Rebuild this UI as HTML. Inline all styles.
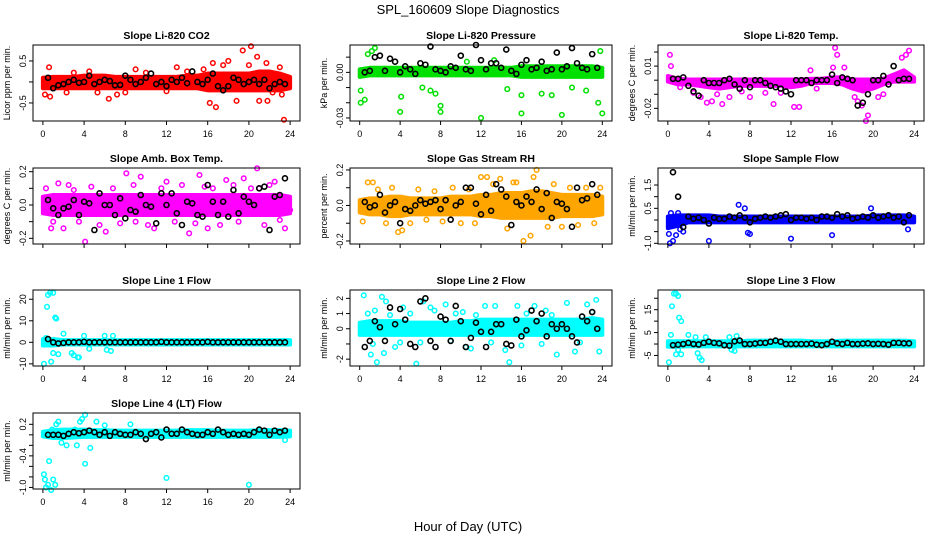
<!DOCTYPE html>
<html><head><meta charset="utf-8"><style>
body{margin:0;background:#fff;}
svg text{font-family:"Liberation Sans",sans-serif;}
</style></head><body>
<svg id="c" width="936" height="540" xmlns="http://www.w3.org/2000/svg">
<text x="468" y="14" text-anchor="middle" font-size="13">SPL_160609  Slope Diagnostics</text>
<text x="468" y="531" text-anchor="middle" font-size="13">Hour of Day (UTC)</text>
</svg>
<script>
const xTicks=[0,4,8,12,16,20,24];
const blackStart=0.5, blackStep=0.5;
// Panel 1 CO2
const co2BandLo=[-0.15,-0.15,-0.15,-0.15,-0.15,-0.15,-0.15,-0.15,-0.15,-0.15,-0.15,-0.15,-0.15,-0.15,-0.15,-0.15,-0.2,-0.2,-0.2,-0.2,-0.2,-0.2,-0.2,-0.2,-0.15];
const co2BandHi=[0.1,0.12,0.12,0.12,0.15,0.15,0.15,0.12,0.12,0.12,0.12,0.12,0.12,0.12,0.15,0.15,0.2,0.2,0.2,0.2,0.2,0.25,0.25,0.2,0.12];
const co2OutX=[0.6,0.2,0.7,2.3,5.3,6.4,7.2,9,13,16.2,16.8,16.5,18,18.8,19.4,20.2,20.8,21.7,21,21.8,23,23.4,22.3,15.6,17.5,20,23.2,3,4.5,8,10,12,14];
const co2OutY=[0.35,-0.3,-0.35,-0.25,-0.25,-0.4,-0.3,0.3,0.35,-0.5,-0.6,0.45,0.5,-0.45,0.75,0.85,0.6,0.45,-0.45,-0.45,0.35,-0.9,-0.25,0.3,0.4,0.4,-0.3,0.22,0.25,-0.25,0.22,-0.22,0.25];
const co2Black=[0.1,-0.15,-0.08,-0.05,0.0,0.05,-0.02,0.0,0.15,-0.05,0.0,0.05,0.02,-0.08,-0.07,0.15,0.05,-0.05,0.0,0.1,0.2,-0.05,0.0,-0.1,0.05,0.0,0.1,-0.03,0.25,0.0,-0.05,0.05,0.2,-0.1,-0.2,-0.1,0.1,0.05,-0.05,0.0,0.05,-0.05,0.05,-0.15,-0.05,0.0,-0.05];
// Panel 2 Pressure
const prBandLo=[-0.003,-0.002,-0.002,-0.002,-0.002,-0.002,-0.002,-0.002,-0.002,-0.002,-0.002,-0.002,-0.002,-0.002,-0.002,-0.002,-0.003,-0.003,-0.003,-0.003,-0.003,-0.003,-0.003,-0.003,-0.003];
const prBandHi=[0.002,0.003,0.003,0.003,0.003,0.003,0.003,0.003,0.003,0.003,0.003,0.003,0.003,0.003,0.003,0.003,0.004,0.004,0.004,0.004,0.004,0.004,0.004,0.004,0.003];
const prOutX=[0.1,0.1,0.5,0.8,1.2,1.5,4.1,4,8,8,6.2,7,12,16,20,24,23.6,16,19,13.3,10.6,7.5,21,23.8,22.4,18,14.6];
const prOutY=[-0.012,-0.02,-0.018,0.012,0.014,0.016,-0.016,-0.026,-0.026,-0.022,-0.01,-0.012,-0.03,-0.027,-0.028,-0.027,-0.02,-0.015,-0.015,0.008,0.007,-0.014,-0.01,0.014,-0.012,-0.014,-0.011];
const prBlack=[0.0,0.001,0.010,0.011,0.001,0.009,0.007,0.0,0.004,0.002,-0.001,0.006,0.005,0.017,0.002,0.001,0.0,0.004,0.003,0.011,0.002,0.001,0.018,0.008,0.002,0.006,0.006,0.003,0.015,0.001,-0.001,0.005,0.008,0.002,0.003,0.007,0.001,0.002,0.013,0.002,0.004,0.016,0.006,0.003,0.002,0.012,0.003];
// Panel 3 Temp
const tpBandLo=[-0.001,-0.003,-0.003,-0.004,-0.005,-0.006,-0.005,-0.004,-0.004,-0.004,-0.004,-0.004,-0.005,-0.004,-0.002,-0.002,-0.002,-0.003,-0.006,-0.008,-0.006,-0.003,-0.001,-0.001,-0.001];
const tpBandHi=[0.003,0.001,0.0005,0.0005,0.0005,0.0005,0.0005,0.0005,0.0005,0.0005,0.0005,0.0005,0.0005,0.0005,0.001,0.001,0.002,0.002,0.0005,0.0005,0.0005,0.001,0.004,0.007,0.002];
const tpOutX=[0.2,0.3,3.8,5.3,4.3,12.3,12.8,10.3,16.3,16.5,16.1,18.2,18.9,19.3,19.5,23.5,22.8,23.2,17.2,13.9,6.0,8.0,2.5,3.2,4.8,9.5,11,14.5,18.5,20.5,21,1.2,7.2];
const tpOutY=[0.018,0.01,-0.016,-0.017,-0.015,-0.019,-0.019,-0.017,0.023,0.018,0.009,-0.012,-0.018,-0.029,-0.025,0.021,0.016,0.018,0.009,0.007,-0.012,-0.012,-0.009,-0.012,-0.01,-0.009,-0.009,-0.006,-0.015,-0.012,-0.01,-0.005,-0.008];
const tpBlack=[0.001,0.001,0.002,-0.004,-0.008,-0.011,0.0,-0.002,-0.002,-0.002,0.0,0.001,-0.003,-0.006,0.0,-0.005,0.0,0.0,-0.002,-0.004,-0.005,-0.006,-0.008,-0.01,0.0,0.0,0.0,-0.002,0.0,0.0,0.0,0.004,-0.002,0.002,0.001,0.0,-0.018,-0.016,-0.01,0.0,0.0,0.003,-0.003,0.01,0.0,0.001,0.001];
// Panel 4 Amb box
const abBandLo=[-0.05,-0.06,-0.06,-0.06,-0.06,-0.06,-0.06,-0.06,-0.06,-0.06,-0.06,-0.06,-0.06,-0.06,-0.06,-0.06,-0.06,-0.06,-0.06,-0.06,-0.06,-0.06,-0.06,-0.06,-0.05];
const abBandHi=[0.05,0.06,0.06,0.06,0.06,0.06,0.06,0.06,0.06,0.06,0.06,0.06,0.06,0.06,0.06,0.06,0.06,0.06,0.06,0.06,0.06,0.06,0.06,0.06,0.05];
const abOutX=[4.1,6.1,8.1,9.5,14.2,15.2,20.8,19.5,17.8,1.5,2.0,12.0,22.5,23.5,0.8,10.8,16.0,0.3,1.0,2.5,3.5,4.7,5.5,6.8,7.5,8.8,10.2,11.5,12.8,13.5,14.8,16.5,17.2,18.5,19.0,20.2,21.5,22.0,23.0,24.0,3.0,9.0,15.7,21.0];
const abOutY=[-0.22,-0.16,0.19,0.17,-0.17,0.18,0.22,0.16,0.15,0.13,-0.14,0.14,0.14,-0.14,-0.14,-0.14,-0.14,0.1,-0.1,0.12,-0.1,0.11,-0.12,0.1,-0.11,0.12,-0.12,0.1,-0.1,0.12,-0.11,0.1,-0.12,0.12,-0.1,0.1,-0.12,0.12,-0.09,-0.03,0.09,-0.1,0.11,0.1];
const abBlack=[0.03,-0.02,-0.06,-0.02,-0.01,0.03,-0.06,0.02,0.01,-0.15,0.07,0.0,0.0,-0.06,0.04,-0.08,-0.03,-0.04,0.06,0.0,-0.01,-0.11,0.07,0.0,0.07,-0.05,-0.12,0.02,0.01,-0.06,-0.07,0.12,0.02,-0.06,0.02,-0.07,0.09,-0.05,0.05,0.02,0.0,0.1,0.11,-0.15,0.05,0.06,0.16];
// Panel 5 RH
const rhBandLo=[-0.04,-0.05,-0.05,-0.06,-0.06,-0.05,-0.05,-0.05,-0.05,-0.05,-0.05,-0.05,-0.06,-0.06,-0.07,-0.07,-0.07,-0.07,-0.07,-0.07,-0.06,-0.06,-0.06,-0.06,-0.05];
const rhBandHi=[0.03,0.04,0.04,0.05,0.05,0.04,0.04,0.04,0.04,0.05,0.05,0.05,0.06,0.06,0.07,0.07,0.07,0.08,0.08,0.07,0.06,0.06,0.06,0.06,0.05];
const rhOutX=[0.8,1.3,4.2,3.8,12.0,12.6,13.9,15.5,16.2,17.5,17.2,18.6,16.9,0.3,1.8,2.6,3.2,5.0,5.8,6.6,7.4,8.2,9.2,10,10.8,11.4,13.2,14.6,15.2,19.2,20.0,20.8,21.6,22.4,23.2,23.8];
const rhOutY=[0.13,0.13,-0.14,-0.15,0.16,0.16,0.15,0.13,-0.2,0.2,0.16,-0.12,-0.17,-0.09,0.09,-0.1,0.1,-0.1,0.09,-0.08,0.08,-0.09,0.1,-0.1,0.09,-0.1,0.12,-0.13,0.13,0.12,-0.12,0.1,-0.11,0.1,-0.1,0.1];
const rhBlack=[0.02,-0.01,0.0,0.06,-0.04,0.0,0.02,-0.1,-0.02,-0.03,0.0,0.03,0.01,0.02,0.03,-0.02,0.03,-0.08,0.0,0.02,0.1,0.1,0.01,-0.05,0.06,-0.03,0.12,0.09,0.05,-0.11,0.02,0.0,0.05,0.02,0.09,-0.02,0.07,-0.07,0.02,0.01,-0.02,-0.12,0.1,0.03,0.04,0.12,0.06];
// Panel 6 Sample flow
const sfBandLo=[-0.35,-0.25,-0.1,-0.1,-0.1,-0.1,-0.1,-0.1,-0.1,-0.1,-0.1,-0.1,-0.1,-0.1,-0.1,-0.1,-0.1,-0.1,-0.1,-0.1,-0.1,-0.1,-0.1,-0.1,-0.1];
const sfBandHi=[0.15,0.2,0.2,0.2,0.2,0.15,0.15,0.15,0.15,0.15,0.15,0.15,0.15,0.15,0.15,0.15,0.15,0.15,0.15,0.15,0.2,0.2,0.2,0.2,0.15];
const sfOutX=[0.1,0.2,0.5,0.8,1.2,1.5,4,6.9,7.5,7.8,8,12,16,19.8,23.4,0.3,1.0];
const sfOutY=[-0.6,-1.0,-0.9,-0.65,-0.4,-0.5,-0.9,0.65,0.5,-0.55,-0.6,-0.8,-0.65,0.5,-0.4,0.3,0.3];
const sfBlack=[2.05,1.0,-0.3,0.15,0.05,0.1,0.0,-0.15,0.1,0.05,0.05,0.15,0.1,0.2,0.1,-0.1,0.05,0.1,0.15,0.1,0.15,0.2,0.25,0.0,0.1,0.1,0.05,0.1,0.0,0.15,0.15,0.1,0.25,0.15,0.2,0.05,0.1,0.15,0.1,0.2,0.1,0.15,0.2,0.1,0.15,-0.1,0.2];
// Panel 7 Line 1
const l1BandLo=[-1.5,-1.5,-1,-1,-1,-1,-1,-1,-1,-1,-1,-1,-1,-1,-1,-1,-1,-1,-1,-1,-1,-1,-1,-1,-1];
const l1BandHi=[1.5,1.5,1,1,1,1,1,1,1,1,1,1,1,1,1,1,1,1,1,1,1,1,1,1,1];
const l1OutX=[0.1,0.3,0.4,0.5,0.7,1,1.2,1.3,1,1.5,0.8,2.8,3.0,3.4,3.5,2,4,6,6.8,6.2,6.6,4.5];
const l1OutY=[-10,2,16.5,22,23,23,11.5,11,-5,-5.5,-9,-5,-6,-7,-7,4,3,3,3,-3.5,-4,-3];
const l1Black=[1.5,0,-0.5,-0.3,0,0,0,0.2,0,0,0,0,0,0,0,0,0,0,0,0,0,0,0.2,0,0,0,0,0,0,0,0,0.2,0,0,0,0,0,0,0,0,0,0,0,0,0,0,0];
// Panel 8 Line 2
const l2BandLo=[-0.4,-0.4,-0.4,-0.4,-0.4,-0.4,-0.4,-0.4,-0.4,-0.4,-0.4,-0.4,-0.4,-0.4,-0.4,-0.4,-0.4,-0.4,-0.4,-0.4,-0.4,-0.4,-0.4,-0.4,-0.4];
const l2BandHi=[0.4,0.5,0.5,0.5,0.5,0.4,0.4,0.4,0.4,0.4,0.5,0.5,0.6,0.6,0.6,0.6,0.6,0.6,0.6,0.6,0.6,0.6,0.6,0.7,0.6];
const l2OutX=[0.4,1.1,1.7,1.5,2.2,2.6,3.5,4.3,5.6,6.3,7,7.4,9,10.2,11,12.4,13.4,14.4,14.8,15.6,16,17.3,18.4,19.5,20.5,21.3,22.5,23.4,23.7,2.4,8.5,10.5,0.8,1.3,3.0,4.0,5.0,6.0,9.5,11.5,13.0,16.5,18.0,19.0,21.8,23.0];
const l2OutY=[2.2,-1.7,-2.2,1.2,2.1,1.8,-1.2,1.4,-2.3,1.8,1.4,1.2,-0.8,1.1,-1.3,1.5,1.5,-1.4,-2.2,1.5,-1.1,1.5,1.2,-1.7,1.7,-1.5,1.6,1.9,-1.5,-1.6,1.6,-1.2,1.0,-1.0,0.9,-0.9,1.0,-0.9,1.0,0.9,-0.9,1.0,-1.0,0.9,-0.9,1.1];
const l2Black=[-1.2,-0.8,0.5,0.1,-0.8,1.4,0.3,1.3,0.6,-1.0,-1.2,1.8,2.0,-0.8,-1.2,0.8,0.6,-0.8,1.5,0.5,-1.2,-0.6,0.4,-0.2,-1.2,-0.2,0.3,0.3,-1.0,-1.1,0.6,-0.5,-0.1,1.2,0.5,1.0,-0.5,0.3,0.0,0.3,0.0,-0.5,-0.9,0.8,0.5,1.1,0.0];
// Panel 9 Line 3
const l3BandLo=[-1.2,-1.2,-1,-1,-1,-1,-1,-1,-1,-1,-1,-1,-1,-1,-1,-1,-1,-1,-1,-1,-1,-1,-1,-1,-1];
const l3BandHi=[1.2,1.2,1.2,1.2,1.2,1.2,1.2,1.2,1.5,1.5,1.5,1.5,1.5,1.5,1.2,1.2,1.2,1.5,1.5,1.5,1.5,1.5,1.5,1.5,1.2];
const l3OutX=[0.1,0.3,0.4,0.6,0.8,1,1.1,1.3,0.8,1.0,1.3,2,2.7,2.9,3.1,3.3,3.7,6,6.7,6.2,6.5];
const l3OutY=[-8,4,16.5,22,22,21,11.5,10,-4.5,-2.5,-4.5,4,3,-4,-6,-7,3,3,3.5,-2.5,-3];
const l3Black=[-0.5,-0.3,0,0.5,0,-0.2,0.5,1.0,0.5,0.3,-0.5,-0.7,1.2,1.5,0,0,0.2,0.5,0.5,1.0,1.5,1.0,0,0,0,0,0,0.2,-0.3,-0.5,0,1.0,0.3,0,0.5,0,0,0.2,0.3,0,0.1,0,-0.3,0.5,0.5,0.3,0.3];
// Panel 10 Line 4 (LT)
const l4BandLo=[-0.03,-0.06,-0.06,-0.05,-0.04,-0.04,-0.04,-0.04,-0.04,-0.04,-0.04,-0.04,-0.04,-0.04,-0.04,-0.04,-0.04,-0.04,-0.04,-0.04,-0.04,-0.04,-0.04,-0.04,-0.03];
const l4BandHi=[0.06,0.09,0.1,0.1,0.1,0.09,0.09,0.08,0.08,0.08,0.08,0.08,0.08,0.08,0.09,0.09,0.09,0.08,0.08,0.08,0.08,0.09,0.09,0.09,0.08];
const l4OutX=[0.1,0.2,0.3,0.5,0.6,0.8,1,1.2,0.9,1.3,1.5,1.8,2.3,3.3,3.6,3.8,4.1,4.1,4.6,5.2,6,12,20,3.1,8.5,23.5];
const l4OutY=[-0.75,-0.85,-1.0,-0.95,-0.5,-1.05,-0.85,-0.95,0.1,0.2,0.25,-0.15,-0.2,-0.2,0.25,0.3,0.38,-0.55,-0.25,0.25,0.18,-0.82,-0.95,0.1,0.2,-0.1];
const l4Black=[0.0,0.0,0.0,-0.02,0.02,0.05,0.03,0.05,0.08,0.05,0.0,0.05,-0.02,0.05,0.02,0.0,0.0,0.05,0.02,-0.08,0.02,0.05,-0.05,0.1,0.02,0.02,0.1,0.05,0.02,0.0,0.0,0.05,0.02,0.1,0.05,0.0,0.02,0.0,0.02,0.0,0.05,0.1,0.08,0.0,0.08,0.05,0.08];

const NS='http://www.w3.org/2000/svg';
const svg=document.getElementById('c');
function mk(tag,attrs,parent){const e=document.createElementNS(NS,tag);for(const k in attrs)e.setAttribute(k,attrs[k]);(parent||svg).appendChild(e);return e;}
const colL=[33,350,658],colR=[300,612,924],rowT=[45,168,290,413],rowB=[121,244,366,489];
const panels=[
 {name:'co2',title:'Slope Li-820 CO2',ylab:'Licor ppm per min.',col:'#ff0000',c:0,r:0,ymin:-0.93,ymax:0.88,ticks:[-0.5,0,0.5],labels:['-0.5','','0.5'],lo:co2BandLo,hi:co2BandHi,ox:co2OutX,oy:co2OutY,bk:co2Black,xl:true},
 {name:'pressure',title:'Slope Li-820 Pressure',ylab:'kPa per min.',col:'#00e000',c:1,r:0,ymin:-0.032,ymax:0.018,ticks:[-0.03,-0.02,-0.01,0,0.01],labels:['-0.03','','','0.00',''],lo:prBandLo,hi:prBandHi,ox:prOutX,oy:prOutY,bk:prBlack,xl:true},
 {name:'temp',title:'Slope Li-820 Temp.',ylab:'degrees C per min.',col:'#ff00ff',c:2,r:0,ymin:-0.029,ymax:0.025,ticks:[-0.02,-0.01,0,0.01,0.02],labels:['-0.02','','','0.01',''],lo:tpBandLo,hi:tpBandHi,ox:tpOutX,oy:tpOutY,bk:tpBlack,xl:true},
 {name:'amb-box',title:'Slope Amb. Box Temp.',ylab:'degrees C per min.',col:'#ff00ff',c:0,r:1,ymin:-0.234,ymax:0.222,ticks:[-0.2,-0.1,0,0.1,0.2],labels:['-0.2','','0.0','','0.2'],lo:abBandLo,hi:abBandHi,ox:abOutX,oy:abOutY,bk:abBlack,xl:false},
 {name:'gas-rh',title:'Slope Gas Stream RH',ylab:'percent per min.',col:'#ffa500',c:1,r:1,ymin:-0.217,ymax:0.211,ticks:[-0.2,-0.1,0,0.1,0.2],labels:['-0.2','','0.0','','0.2'],lo:rhBandLo,hi:rhBandHi,ox:rhOutX,oy:rhOutY,bk:rhBlack,xl:false},
 {name:'sample-flow',title:'Slope Sample Flow',ylab:'ml/min per min.',col:'#0000ff',c:2,r:1,ymin:-1.03,ymax:2.23,ticks:[-1,-0.5,0,0.5,1,1.5],labels:['-1.0','','','0.5','','1.5'],lo:sfBandLo,hi:sfBandHi,ox:sfOutX,oy:sfOutY,bk:sfBlack,xl:false},
 {name:'line1',title:'Slope Line 1 Flow',ylab:'ml/min per min.',col:'#00ffff',c:0,r:2,ymin:-11,ymax:24.3,ticks:[-10,0,10,20],labels:['-10','0','10','20'],lo:l1BandLo,hi:l1BandHi,ox:l1OutX,oy:l1OutY,bk:l1Black,xl:true},
 {name:'line2',title:'Slope Line 2 Flow',ylab:'ml/min per min.',col:'#00ffff',c:1,r:2,ymin:-2.45,ymax:2.55,ticks:[-2,-1,0,1,2],labels:['-2','','0','1','2'],lo:l2BandLo,hi:l2BandHi,ox:l2OutX,oy:l2OutY,bk:l2Black,xl:true},
 {name:'line3',title:'Slope Line 3 Flow',ylab:'ml/min per min.',col:'#00ffff',c:2,r:2,ymin:-9.6,ymax:23.6,ticks:[-5,0,5,10,15,20],labels:['-5','','5','','15',''],lo:l3BandLo,hi:l3BandHi,ox:l3OutX,oy:l3OutY,bk:l3Black,xl:true},
 {name:'line4',title:'Slope Line 4 (LT) Flow',ylab:'ml/min per min.',col:'#00ffff',c:0,r:3,ymin:-1.03,ymax:0.415,ticks:[-1,-0.8,-0.6,-0.4,-0.2,0,0.2],labels:['-1.0','','','-0.4','','','0.2'],lo:l4BandLo,hi:l4BandHi,ox:l4OutX,oy:l4OutY,bk:l4Black,xl:true}
];
panels.forEach(p=>{
 const L=colL[p.c],R=colR[p.c],T=rowT[p.r],B=rowB[p.r];
 const pad=(R-L)*0.04/1.08;
 const xs=h=>L+pad+(h/24)*(R-L-2*pad);
 const ys=v=>B-(v-p.ymin)/(p.ymax-p.ymin)*(B-T);
 const g=mk('g',{});
 
 
 const t=mk('text',{x:(L+R)/2,y:T-6,'text-anchor':'middle','font-size':'10.5','font-weight':'bold'},g);t.textContent=p.title;
 
 
 const yl=mk('text',{x:0,y:0,'text-anchor':'middle','font-size':'9',transform:`translate(${L-23},${(T+B)/2}) rotate(-90)`},g);yl.textContent=p.ylab;
 
 
 let pts=[];
 p.hi.forEach((v,i)=>pts.push(xs(i)+','+ys(v)));
 for(let i=p.lo.length-1;i>=0;i--)pts.push(xs(i)+','+ys(p.lo[i]));
 const band=mk('polygon',{points:pts.join(' '),fill:p.col,stroke:p.col,'stroke-width':'4','stroke-linejoin':'round'},g);
 
 
 p.ox.forEach((x,i)=>{const c=mk('circle',{cx:xs(x),cy:ys(p.oy[i]),r:2.3,fill:'none',stroke:p.col,'stroke-width':1.5},g);
  
  });
 p.bk.forEach((v,i)=>{const c=mk('circle',{cx:xs(blackStart+i*blackStep),cy:ys(v),r:2.5,fill:'none',stroke:'#000','stroke-width':1.6},g);
  
  });
 const box=mk('rect',{x:L,y:T,width:R-L,height:B-T,fill:'none',stroke:'#000','stroke-width':1},g);
 
 
 xTicks.forEach(h=>{mk('line',{x1:xs(h),x2:xs(h),y1:B,y2:B+4,stroke:'#000'},g);
  if(p.xl){const tt=mk('text',{x:xs(h),y:B+16,'text-anchor':'middle','font-size':'9'},g);tt.textContent=h;
   
   }});
 p.ticks.forEach((v,i)=>{mk('line',{x1:L-4,x2:L,y1:ys(v),y2:ys(v),stroke:'#000'},g);
  if(p.labels[i]){const tt=mk('text',{x:0,y:0,'text-anchor':'middle','font-size':'9',transform:`translate(${L-7},${ys(v)}) rotate(-90)`},g);tt.textContent=p.labels[i];
   
   }});
});
</script>
</body></html>
